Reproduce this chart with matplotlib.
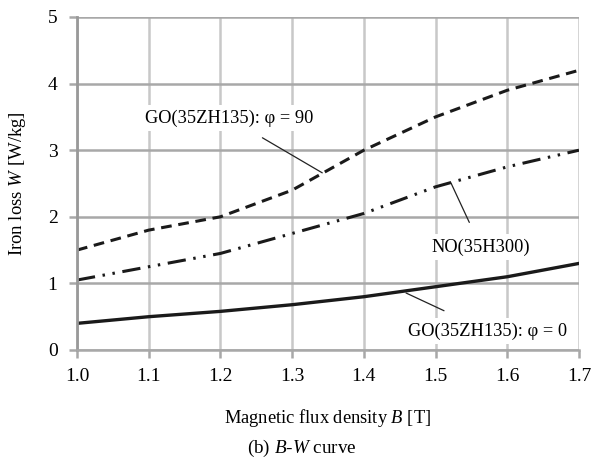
import matplotlib
matplotlib.use("Agg")
import matplotlib.pyplot as plt

plt.rcParams['font.family'] = ['Liberation Serif', 'DejaVu Serif']
plt.rcParams['mathtext.fontset'] = 'custom'
plt.rcParams['mathtext.rm'] = 'Liberation Serif'
plt.rcParams['mathtext.it'] = 'Liberation Serif:italic'

B = [1.0, 1.1, 1.2, 1.3, 1.4, 1.5, 1.6, 1.7]
go90 = [1.5, 1.8, 2.0, 2.4, 3.0, 3.5, 3.9, 4.2]
no = [1.05, 1.25, 1.45, 1.75, 2.05, 2.45, 2.75, 3.0]
go0 = [0.4, 0.5, 0.58, 0.68, 0.8, 0.95, 1.1, 1.3]
xticks = [1.0, 1.1, 1.2, 1.3, 1.4, 1.5, 1.6, 1.7]
yticks = [0, 1, 2, 3, 4, 5]

fig = plt.figure(figsize=(5.95, 4.63), dpi=100)
ax = fig.add_axes([77/595, 1-350/463, (579-77)/595, (350-17)/463])

ax.set_xlim(1.0, 1.7)
ax.set_ylim(0, 5)
ax.set_xticks(xticks)
ax.set_xticklabels([f"{v:.1f}" for v in xticks])
ax.set_yticks(yticks)
ax.set_yticklabels([str(v) for v in yticks])

ax.xaxis.grid(True, color='#c8c8c8', lw=1.8)
ax.yaxis.grid(True, color='#a8a8a8', lw=1.8)
ax.set_axisbelow(True)
for s in ['top', 'right']:
    ax.spines[s].set_visible(False)
ax.spines['left'].set_color('#999999')
ax.spines['left'].set_linewidth(2)
ax.spines['bottom'].set_color('#a8a8a8')
ax.spines['bottom'].set_linewidth(1.8)
ax.tick_params(axis='y', length=6, width=1.8, color='#a8a8a8', labelsize=14, pad=8)
ax.tick_params(axis='x', length=6, width=1.8, color='#a8a8a8', labelsize=14, pad=7)

ax.plot(B, go90, color='#1a1a1a', lw=2.2, linestyle=(0, (3.5, 2.2)))
ax.plot(B, no, color='#1a1a1a', lw=2.2, linestyle=(0, (6, 2.5, 0.8, 2.5, 0.8, 2.5)))
ax.plot(B, go0, color='#1a1a1a', lw=2.4)

bbox = dict(boxstyle='square,pad=0.25', fc='white', ec='none')
ax.annotate(r'GO(35ZH135): φ = 90', xy=(1.342, 2.66), xytext=(1.212, 3.48),
            fontsize=13.2, ha='center', va='center', bbox=bbox,
            arrowprops=dict(arrowstyle='-', color='#222222', lw=0.9, shrinkA=9, shrinkB=0))
ax.annotate(r'NO(35H300)', xy=(1.5215, 2.507), xytext=(1.563, 1.547),
            fontsize=13.2, ha='center', va='center', bbox=bbox,
            arrowprops=dict(arrowstyle='-', color='#222222', lw=0.9, shrinkA=9, shrinkB=0))
ax.annotate(r'GO(35ZH135): φ = 0', xy=(1.4588, 0.856), xytext=(1.5724, 0.285),
            fontsize=13.2, ha='center', va='center', bbox=bbox,
            arrowprops=dict(arrowstyle='-', color='#222222', lw=0.9, shrinkA=12, shrinkB=0))

ax.set_ylabel(r'Iron loss $W$ [W/kg]', fontsize=13.5, labelpad=14)
fig.text(328/595, 1-418/463, r'Magnetic flux density $B$ [T]', fontsize=13.3, ha='center', va='center')
fig.text(302/595, 1-448/463, r'(b) $B$-$W$ curve', fontsize=13.8, ha='center', va='center')

fig.savefig('out.png', dpi=100)
